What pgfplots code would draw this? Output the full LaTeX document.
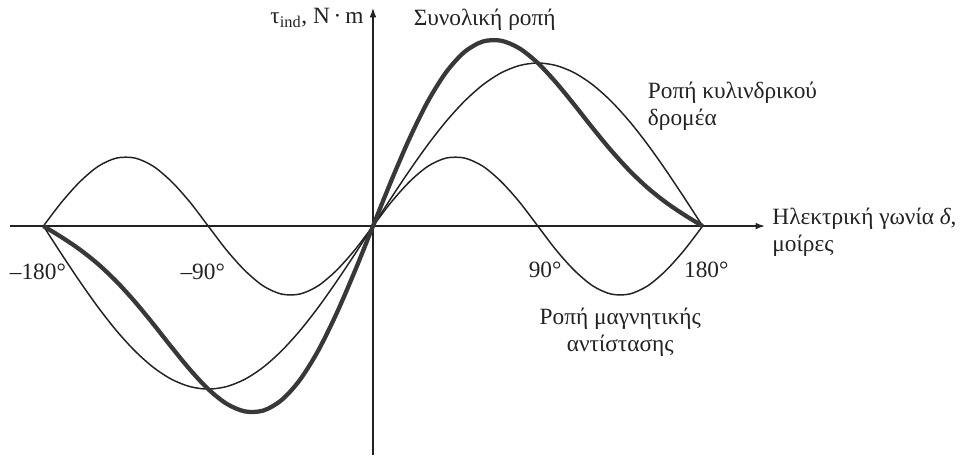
\documentclass[border=0pt]{standalone}
\usepackage{fontspec}
\setmainfont{Liberation Serif}
\usepackage{pgfplots}
\pgfplotsset{compat=1.18}
\usepackage{pgfplotstable}
\usetikzlibrary{arrows.meta}

% delta (deg), cylindrical-rotor torque, reluctance torque, total torque
\pgfplotstableread{
d     cyl     rel     tot
-180  0       0       0
-170  -28.3   24.0    -11.2
-160  -55.7   44.4    -23.6
-150  -81.5   59.8    -38.2
-140  -104.8  68.0    -55.6
-130  -124.9  68.0    -75.7
-120  -141.2  59.8    -97.9
-110  -153.2  44.4    -121.1
-100  -160.5  24.0    -143.4
-90   -163    0       -163
-80   -160.5  -24.0   -177.6
-70   -153.2  -44.4   -185.3
-60   -141.2  -59.8   -184.5
-50   -124.9  -68.0   -174.1
-40   -104.8  -68.0   -154.0
-30   -81.5   -59.8   -124.8
-20   -55.7   -44.4   -87.8
-10   -28.3   -24.0   -45.4
0     0       0       0
10    28.3    24.0    45.4
20    55.7    44.4    87.8
30    81.5    59.8    124.8
40    104.8   68.0    154.0
50    124.9   68.0    174.1
60    141.2   59.8    184.5
70    153.2   44.4    185.3
80    160.5   24.0    177.6
90    163     0       163
100   160.5   -24.0   143.4
110   153.2   -44.4   121.1
120   141.2   -59.8   97.9
130   124.9   -68.0   75.7
140   104.8   -68.0   55.6
150   81.5    -59.8   38.2
160   55.7    -44.4   23.6
170   28.3    -24.0   11.2
180   0       0       0
}\torque

\definecolor{ink}{HTML}{222222}
\tikzset{lbl/.style={font=\fontsize{17.5}{20.5}\selectfont, text=ink, inner sep=0pt}}

\begin{document}
\begin{tikzpicture}
\begin{axis}[
  x=1.373pt, y=0.75pt,
  axis lines=middle,
  axis line style={ink, line width=0.9pt, -{Latex[length=7pt,width=5pt]}},
  xmin=-198, xmax=214,
  ymin=-229, ymax=218,
  xtick=\empty, ytick=\empty,
  clip=false,
]
\addplot[ink, line width=1.1pt, smooth] table[x=d, y=cyl] {\torque};
\addplot[ink, line width=1.1pt, smooth] table[x=d, y=rel] {\torque};
\addplot[ink!90, line width=3.2pt, smooth] table[x=d, y=tot] {\torque};

% tick labels
\node[lbl] at (axis cs:-183,-46) {–180°};
\node[lbl] at (axis cs:-93,-46) {–90°};
\node[lbl] at (axis cs:94,-44) {90°};
\node[lbl] at (axis cs:182,-44) {180°};

% axis titles
\node[lbl, anchor=east] at (axis cs:-5,208) {τ\textsubscript{ind}, N\,·\,m};
\node[lbl, anchor=west, align=left] at (axis cs:218,-6) {Ηλεκτρική γωνία \textit{δ},\\μοίρες};

% curve names
\node[lbl] at (axis cs:61,206) {Συνολική ροπή};
\node[lbl, anchor=west, align=left] at (axis cs:150,120) {Ροπή κυλινδρικού\\δρομέα};
\node[lbl, align=center] at (axis cs:135,-106) {Ροπή μαγνητικής\\αντίστασης};

\coordinate (bbA) at (axis cs:-203.7,226);
\coordinate (bbB) at (axis cs:323.3,-235);
\end{axis}
\pgfresetboundingbox
\path (bbA) rectangle (bbB);
\end{tikzpicture}
\end{document}
